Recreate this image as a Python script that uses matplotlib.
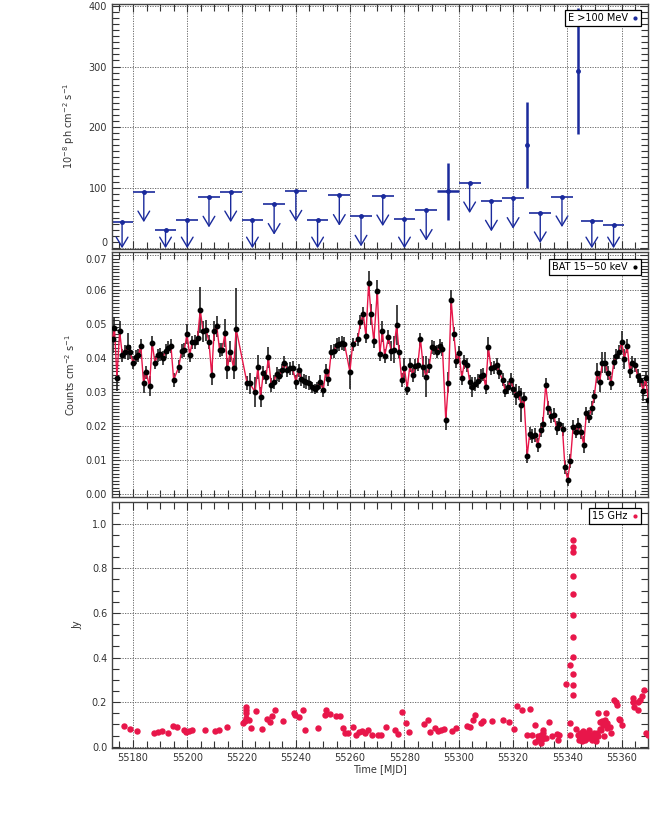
import matplotlib
matplotlib.use("Agg")
import matplotlib.pyplot as plt
from matplotlib.ticker import MultipleLocator, FormatStrFormatter
from matplotlib.lines import Line2D

# --- Fermi-LAT E>100 MeV: weekly upper limits + detections
ul_t = [55176, 55184, 55192, 55200, 55208, 55216, 55224, 55232, 55240, 55248, 55256,
        55264, 55272, 55280, 55288, 55304, 55312, 55320, 55330, 55338, 55349, 55357]
ul_v = [42.8, 93, 30.6, 47, 84.4, 93, 46, 72.4, 94.2, 46, 87.2,
        53, 86.5, 48.2, 62.5, 108, 77.8, 82.2, 58.6, 84.9, 44.4, 38.8]
det_t = [55296, 55325, 55343.8]
det_v = [94, 171, 293]
det_e = [47, 71, 104]
det_w = [4, 0.3, 0.3]

# --- Swift/BAT 15-50 keV daily light curve
t_bat = [55172.5, 55173.2, 55174.1, 55175.1, 55176.1, 55177.1, 55178.0, 55179.0, 55180.0, 55181.0,
         55182.0, 55182.9, 55183.9, 55184.9, 55186.1, 55187.1, 55188.1, 55189.1, 55190.1, 55191.0,
         55192.0, 55193.0, 55194.0, 55195.0, 55196.9, 55197.9, 55198.9, 55199.9, 55200.9, 55201.8,
         55202.8, 55203.8, 55204.8, 55205.8, 55207.0, 55208.0, 55209.0, 55209.9, 55210.9, 55211.9,
         55212.9, 55213.9, 55214.8, 55215.8, 55217.1, 55218.0, 55222.0, 55223.0, 55225.0, 55226.0,
         55227.0, 55228.0, 55229.0, 55229.9, 55230.9, 55231.9, 55232.9, 55233.9, 55234.8, 55235.8,
         55236.8, 55237.8, 55238.8, 55240.0, 55241.0, 55242.0, 55243.0, 55243.9, 55244.9, 55245.9,
         55246.9, 55247.9, 55248.8, 55250.1, 55251.0, 55252.0, 55253.0, 55254.0, 55255.0, 55256.0,
         55257.0, 55257.9, 55259.9, 55260.9, 55262.8, 55263.8, 55264.8, 55265.8, 55266.8, 55267.7,
         55268.7, 55270.0, 55270.9, 55271.9, 55272.7, 55274.1, 55275.1, 55276.1, 55277.1, 55278.0,
         55279.0, 55280.0, 55281.0, 55282.0, 55283.0, 55283.9, 55284.9, 55285.9, 55286.9, 55287.9,
         55289.1, 55290.1, 55291.0, 55292.0, 55293.0, 55294.0, 55295.2, 55296.2, 55297.2, 55298.2,
         55299.1, 55300.1, 55301.1, 55302.1, 55303.1, 55304.0, 55305.0, 55306.0, 55307.0, 55308.0,
         55309.0, 55309.9, 55310.9, 55311.9, 55312.9, 55313.9, 55314.8, 55316.1, 55317.1, 55318.1,
         55319.1, 55320.0, 55321.0, 55322.0, 55323.0, 55324.0, 55325.2, 55326.1, 55327.1, 55328.1,
         55329.1, 55330.1, 55331.0, 55332.0, 55333.0, 55334.0, 55335.0, 55336.0, 55336.9, 55338.2,
         55339.1, 55340.1, 55341.1, 55342.1, 55343.1, 55344.0, 55345.0, 55346.0, 55347.0, 55348.0,
         55349.0, 55349.9, 55350.9, 55351.9, 55352.9, 55353.9, 55354.8, 55356.1, 55357.1, 55358.0,
         55359.0, 55360.0, 55361.0, 55362.0, 55363.0, 55363.9, 55364.9, 55365.9, 55366.9, 55367.9,
         55368.8, 55369.8]
f_bat = [0.0455, 0.0488, 0.0342, 0.0478, 0.0407, 0.0416, 0.0433, 0.0416, 0.0386, 0.0402,
         0.0407, 0.0435, 0.0327, 0.0357, 0.0317, 0.0443, 0.0386, 0.0407, 0.0410, 0.0399,
         0.0420, 0.0430, 0.0435, 0.0335, 0.0374, 0.0420, 0.0422, 0.0470, 0.0407, 0.0445,
         0.0447, 0.0458, 0.0540, 0.0477, 0.0480, 0.0447, 0.0350, 0.0479, 0.0492, 0.0422,
         0.0424, 0.0473, 0.0369, 0.0418, 0.0369, 0.0485, 0.0327, 0.0325, 0.0300, 0.0372,
         0.0285, 0.0355, 0.0344, 0.0401, 0.0321, 0.0330, 0.0353, 0.0348, 0.0363, 0.0386,
         0.0365, 0.0369, 0.0370, 0.0330, 0.0363, 0.0338, 0.0332, 0.0329, 0.0327, 0.0313,
         0.0308, 0.0313, 0.0329, 0.0306, 0.0361, 0.0338, 0.0416, 0.0420, 0.0437, 0.0441,
         0.0443, 0.0441, 0.0359, 0.0439, 0.0454, 0.0504, 0.0529, 0.0464, 0.0618, 0.0527,
         0.0449, 0.0597, 0.0412, 0.0477, 0.0405, 0.0460, 0.0420, 0.0424, 0.0496, 0.0418,
         0.0334, 0.0369, 0.0310, 0.0378, 0.0350, 0.0376, 0.0380, 0.0454, 0.0374, 0.0344,
         0.0376, 0.0431, 0.0429, 0.0418, 0.0435, 0.0426, 0.0218, 0.0327, 0.0569, 0.0470,
         0.0391, 0.0414, 0.0340, 0.0388, 0.0378, 0.0330, 0.0315, 0.0323, 0.0332, 0.0348,
         0.0351, 0.0315, 0.0431, 0.0369, 0.0372, 0.0380, 0.0359, 0.0336, 0.0304, 0.0313,
         0.0336, 0.0310, 0.0292, 0.0296, 0.0262, 0.0281, 0.0113, 0.0178, 0.0170, 0.0174,
         0.0144, 0.0188, 0.0207, 0.0321, 0.0253, 0.0230, 0.0232, 0.0194, 0.0205, 0.0190,
         0.0079, 0.0043, 0.0098, 0.0197, 0.0184, 0.0203, 0.0182, 0.0146, 0.0237, 0.0228,
         0.0253, 0.0287, 0.0355, 0.0330, 0.0386, 0.0386, 0.0355, 0.0327, 0.0388, 0.0405,
         0.0416, 0.0447, 0.0397, 0.0435, 0.0361, 0.0386, 0.0378, 0.0346, 0.0334, 0.0304,
         0.0340, 0.0276]
e_bat = [0.004, 0.003, 0.004, 0.003, 0.002, 0.002, 0.004, 0.002, 0.002, 0.002,
         0.002, 0.002, 0.003, 0.002, 0.003, 0.002, 0.002, 0.002, 0.002, 0.002,
         0.002, 0.002, 0.002, 0.002, 0.002, 0.002, 0.002, 0.003, 0.002, 0.002,
         0.002, 0.002, 0.0067, 0.003, 0.003, 0.002, 0.003, 0.003, 0.003, 0.002,
         0.002, 0.004, 0.003, 0.003, 0.003, 0.012, 0.002, 0.003, 0.0045, 0.0035,
         0.003, 0.002, 0.002, 0.003, 0.002, 0.002, 0.002, 0.002, 0.002, 0.002,
         0.002, 0.002, 0.002, 0.002, 0.002, 0.002, 0.002, 0.002, 0.002, 0.0015,
         0.0015, 0.0015, 0.002, 0.002, 0.002, 0.002, 0.002, 0.002, 0.002, 0.002,
         0.002, 0.002, 0.005, 0.002, 0.002, 0.002, 0.002, 0.002, 0.0036, 0.003,
         0.002, 0.003, 0.002, 0.003, 0.002, 0.002, 0.003, 0.004, 0.006, 0.002,
         0.002, 0.003, 0.002, 0.002, 0.002, 0.002, 0.002, 0.002, 0.003, 0.006,
         0.002, 0.002, 0.002, 0.002, 0.002, 0.002, 0.003, 0.003, 0.003, 0.002,
         0.002, 0.002, 0.002, 0.002, 0.002, 0.002, 0.003, 0.002, 0.002, 0.002,
         0.002, 0.002, 0.003, 0.002, 0.002, 0.002, 0.002, 0.002, 0.002, 0.002,
         0.002, 0.002, 0.003, 0.002, 0.005, 0.002, 0.002, 0.002, 0.002, 0.002,
         0.002, 0.002, 0.002, 0.002, 0.002, 0.002, 0.002, 0.002, 0.002, 0.002,
         0.002, 0.002, 0.002, 0.002, 0.002, 0.002, 0.002, 0.0025, 0.002, 0.002,
         0.002, 0.002, 0.003, 0.003, 0.003, 0.003, 0.002, 0.002, 0.002, 0.002,
         0.002, 0.003, 0.003, 0.002, 0.002, 0.002, 0.002, 0.002, 0.002, 0.003,
         0.002, 0.003]

# --- 15 GHz radio (Jy)
t_rad = [55176.6, 55178.8, 55181.6, 55187.9, 55189.4, 55190.7, 55192.8, 55194.6, 55196.4, 55198.8,
         55199.6, 55200.7, 55201.6, 55206.5, 55210.3, 55211.8, 55214.6, 55220.5, 55221.1, 55221.5,
         55221.6, 55221.7, 55221.8, 55222.7, 55223.6, 55225.4, 55227.6, 55229.3, 55230.3, 55231.3,
         55232.5, 55235.3, 55239.4, 55239.5, 55241.1, 55242.6, 55243.4, 55248.2, 55250.6, 55251.2,
         55252.6, 55254.6, 55256.3, 55257.3, 55258.2, 55259.3, 55261.2, 55262.2, 55263.3, 55264.4,
         55265.4, 55266.4, 55268.2, 55270.3, 55271.5, 55273.3, 55276.4, 55277.7, 55279.1, 55280.6,
         55281.5, 55287.2, 55288.5, 55289.4, 55291.2, 55292.4, 55293.4, 55294.4, 55297.4, 55299.0,
         55303.1, 55304.3, 55305.4, 55306.1, 55308.1, 55309.1, 55312.3, 55316.2, 55318.4, 55320.3,
         55321.3, 55323.3, 55325.3, 55326.3, 55327.1, 55328.1, 55328.1, 55329.1, 55329.3, 55329.8,
         55330.1, 55330.3, 55330.6, 55330.8, 55331.0, 55331.0, 55331.5, 55332.0, 55333.3, 55334.2,
         55336.2, 55336.4, 55336.9, 55339.3, 55340.9, 55341.1, 55341.1, 55342.1, 55342.1, 55342.1,
         55342.1, 55342.1, 55342.1, 55342.1, 55342.1, 55342.1, 55342.1, 55342.1, 55343.3, 55343.8,
         55344.3, 55344.5, 55344.8, 55345.3, 55345.8, 55346.0, 55346.3, 55346.7, 55347.2, 55347.7,
         55348.0, 55348.5, 55349.0, 55349.2, 55349.7, 55350.2, 55350.4, 55350.9, 55351.2, 55351.4,
         55351.9, 55352.1, 55352.4, 55352.9, 55353.1, 55353.4, 55353.9, 55354.1, 55354.4, 55354.6,
         55355.8, 55356.1, 55357.1, 55357.8, 55358.3, 55359.0, 55359.3, 55360.2, 55364.2, 55364.2,
         55364.4, 55366.1, 55366.1, 55366.9, 55367.6, 55368.1, 55369.1, 55369.6]
f_rad = [0.091, 0.079, 0.072, 0.061, 0.064, 0.069, 0.061, 0.091, 0.088, 0.076,
         0.066, 0.072, 0.075, 0.076, 0.069, 0.076, 0.088, 0.106, 0.114, 0.127,
         0.150, 0.165, 0.177, 0.118, 0.085, 0.159, 0.079, 0.123, 0.111, 0.138,
         0.163, 0.117, 0.153, 0.144, 0.132, 0.163, 0.076, 0.082, 0.141, 0.163,
         0.148, 0.139, 0.136, 0.084, 0.061, 0.061, 0.090, 0.054, 0.064, 0.069,
         0.061, 0.075, 0.054, 0.054, 0.051, 0.088, 0.075, 0.057, 0.154, 0.106,
         0.067, 0.103, 0.118, 0.066, 0.084, 0.072, 0.076, 0.078, 0.072, 0.085,
         0.093, 0.087, 0.120, 0.141, 0.105, 0.114, 0.117, 0.118, 0.112, 0.081,
         0.184, 0.166, 0.051, 0.169, 0.054, 0.096, 0.019, 0.046, 0.031, 0.039,
         0.054, 0.016, 0.046, 0.034, 0.061, 0.076, 0.039, 0.039, 0.111, 0.049,
         0.058, 0.031, 0.054, 0.283, 0.108, 0.365, 0.054, 0.925, 0.894, 0.871,
         0.767, 0.683, 0.589, 0.492, 0.401, 0.327, 0.278, 0.233, 0.079, 0.054,
         0.031, 0.061, 0.039, 0.024, 0.069, 0.046, 0.031, 0.054, 0.061, 0.039,
         0.076, 0.054, 0.031, 0.046, 0.061, 0.039, 0.024, 0.061, 0.151, 0.049,
         0.079, 0.112, 0.076, 0.115, 0.099, 0.049, 0.121, 0.151, 0.085, 0.106,
         0.088, 0.061, 0.211, 0.199, 0.188, 0.124, 0.118, 0.099, 0.218, 0.200,
         0.178, 0.163, 0.199, 0.211, 0.226, 0.253, 0.061, 0.054]

BLUE = "#1a2a9c"
RED = "#e8164a"
TXT = "#333333"

fig = plt.figure(figsize=(6.54, 8.17), dpi=100)
ax1 = fig.add_axes([0.1713, 0.6958, 0.8196, 0.2999])
ax2 = fig.add_axes([0.1713, 0.3920, 0.8196, 0.2992])
ax3 = fig.add_axes([0.1713, 0.0841, 0.8196, 0.3019])


def style(ax):
    ax.set_xlim(55172.3, 55369.7)
    ax.xaxis.set_major_locator(MultipleLocator(20))
    ax.xaxis.set_minor_locator(MultipleLocator(5))
    ax.tick_params(which="both", direction="in", top=True, right=True,
                   labelsize=7, colors=TXT, width=0.8)
    ax.tick_params(which="major", length=6)
    ax.tick_params(which="minor", length=5)
    ax.grid(True, which="major", color="0.35", linestyle=(0, (1.5, 1.5)), linewidth=0.6)
    ax.set_axisbelow(True)
    for s in ax.spines.values():
        s.set_linewidth(1.0)
        s.set_color("#444444")


def tag(ax, label, color, ms):
    h = Line2D([], [], ls="none", marker="o", ms=ms, color=color, label=label)
    leg = ax.legend(handles=[h], loc="upper right", markerfirst=False, frameon=True,
                    fancybox=False, framealpha=1, fontsize=7, handlelength=0.6,
                    handletextpad=0.5, borderpad=0.3, borderaxespad=0.7)
    leg.get_frame().set_edgecolor("black")
    leg.get_frame().set_linewidth(0.9)


# --- top panel: gamma rays
style(ax1)
ax1.errorbar(ul_t, ul_v, xerr=4, fmt="o", ms=2.5, color=BLUE, elinewidth=1.2, capsize=0)
for t, v in zip(ul_t, ul_v):
    ax1.annotate("", xy=(t, max(v - 50, 0)), xytext=(t, v),
                 arrowprops=dict(arrowstyle="->,head_length=0.5,head_width=0.3",
                                 color=BLUE, lw=1.0, shrinkA=0, shrinkB=0,
                                 mutation_scale=14))
ax1.errorbar(det_t, det_v, yerr=det_e, xerr=det_w, fmt="o", ms=2.5, color=BLUE,
             elinewidth=1.8, capsize=0)
ax1.set_ylim(-0.5, 404)
ax1.set_yticks([0, 100, 200, 300, 400])
ax1.yaxis.set_minor_locator(MultipleLocator(10))
ax1.tick_params(labelbottom=False)
ax1.set_ylabel(r"10$^{-8}$ ph cm$^{-2}$ s$^{-1}$", fontsize=7, color=TXT)
ax1.yaxis.set_label_coords(-0.065, 0.5)
tag(ax1, "E >100 MeV", BLUE, 2)

# --- middle panel: BAT
style(ax2)
ax2.errorbar(t_bat, f_bat, yerr=e_bat, fmt="none", ecolor="#222222", elinewidth=1.2,
             capsize=0, zorder=2)
ax2.plot(t_bat, f_bat, color=RED, lw=1.0, zorder=3)
ax2.plot(t_bat, f_bat, "o", color="black", ms=3.2, zorder=4)
ax2.set_ylim(-0.0007, 0.0709)
ax2.set_yticks([0.0, 0.01, 0.02, 0.03, 0.04, 0.05, 0.06, 0.07])
ax2.yaxis.set_minor_locator(MultipleLocator(0.001))
ax2.yaxis.set_major_formatter(FormatStrFormatter("%.2f"))
ax2.tick_params(labelbottom=False)
ax2.set_ylabel(r"Counts cm$^{-2}$ s$^{-1}$", fontsize=7, color=TXT)
ax2.yaxis.set_label_coords(-0.065, 0.5)
tag(ax2, "BAT 15\u221250 keV", "black", 2)

# --- bottom panel: 15 GHz
style(ax3)
ax3.plot(t_rad, f_rad, "o", color=RED, ms=3.6, zorder=3)
ax3.set_ylim(-0.007, 1.099)
ax3.yaxis.set_major_locator(MultipleLocator(0.2))
ax3.yaxis.set_minor_locator(MultipleLocator(0.05))
ax3.yaxis.set_major_formatter(FormatStrFormatter("%.1f"))
ax3.set_ylabel("Jy", fontsize=7, color=TXT)
ax3.yaxis.set_label_coords(-0.055, 0.5)
ax3.set_xlabel("Time [MJD]", fontsize=7, color=TXT, labelpad=1)
tag(ax3, "15 GHz", RED, 2)

# keep the "0" of the top panel and the "0.07" of the middle panel apart
ax1.get_yticklabels()[0].set_verticalalignment("bottom")
ax2.get_yticklabels()[-1].set_verticalalignment("top")

fig.savefig("out.png", dpi=100)
